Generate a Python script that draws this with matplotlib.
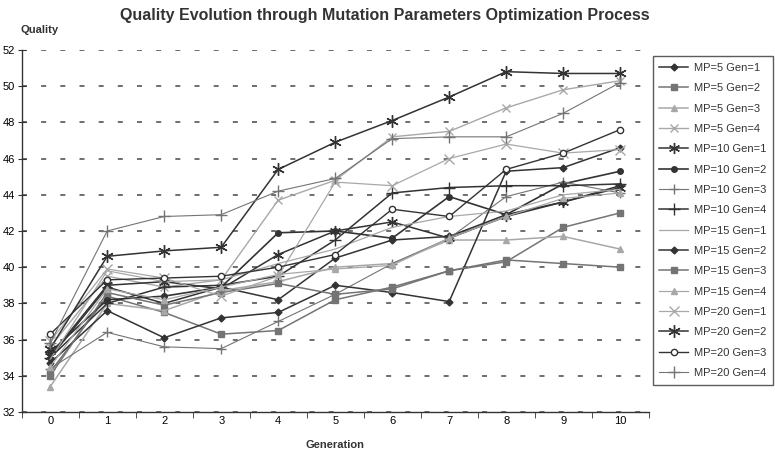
import numpy as np
import matplotlib
matplotlib.use('Agg')
import matplotlib.pyplot as plt

plt.rcParams['font.family'] = ['Liberation Sans Narrow', 'Liberation Sans', 'DejaVu Sans']

generations = list(range(11))

# quality per generation
mp5_gen1 = [35.0, 38.9, 38.0, 38.9, 38.2, 40.5, 41.5, 41.7, 42.9, 43.6, 44.5]
mp5_gen2 = [34.2, 38.4, 37.5, 36.3, 36.5, 38.2, 38.9, 39.8, 40.3, 42.2, 43.0]
mp5_gen3 = [33.4, 38.0, 37.6, 38.7, 39.2, 40.0, 40.2, 41.5, 41.5, 41.7, 41.0]
mp5_gen4 = [35.6, 39.5, 38.9, 39.3, 43.7, 44.8, 47.2, 47.5, 48.8, 49.8, 50.3]
mp10_gen1 = [35.1, 39.0, 39.2, 38.8, 40.7, 42.0, 42.5, 41.6, 42.8, 43.6, 44.4]
mp10_gen2 = [35.3, 38.2, 38.4, 38.9, 41.9, 42.0, 41.6, 43.9, 42.9, 44.6, 45.3]
mp10_gen3 = [34.4, 36.4, 35.6, 35.5, 37.0, 38.5, 40.2, 41.6, 43.9, 44.7, 44.1]
mp10_gen4 = [35.0, 38.0, 38.9, 39.0, 39.5, 41.5, 44.1, 44.4, 44.5, 44.5, 44.6]
mp15_gen1 = [34.9, 39.8, 39.2, 39.3, 40.2, 41.0, 42.2, 42.8, 43.1, 44.0, 44.3]
mp15_gen2 = [34.7, 37.6, 36.1, 37.2, 37.5, 39.0, 38.6, 38.1, 45.3, 45.5, 46.6]
mp15_gen3 = [34.0, 38.6, 37.9, 38.6, 39.1, 38.5, 38.8, 39.8, 40.4, 40.2, 40.0]
mp15_gen4 = [34.5, 38.8, 38.2, 38.9, 39.6, 39.9, 40.1, 41.6, 42.8, 43.8, 44.1]
mp20_gen1 = [35.9, 39.9, 39.4, 38.4, 39.5, 44.7, 44.5, 46.0, 46.8, 46.3, 46.5]
mp20_gen2 = [35.5, 40.6, 40.9, 41.1, 45.4, 46.9, 48.1, 49.4, 50.8, 50.7, 50.7]
mp20_gen3 = [36.3, 39.3, 39.4, 39.5, 40.0, 40.7, 43.2, 42.8, 45.4, 46.3, 47.6]
mp20_gen4 = [35.8, 42.0, 42.8, 42.9, 44.2, 44.9, 47.1, 47.2, 47.2, 48.5, 50.2]

labels = ['MP=5 Gen=1', 'MP=5 Gen=2', 'MP=5 Gen=3', 'MP=5 Gen=4',
          'MP=10 Gen=1', 'MP=10 Gen=2', 'MP=10 Gen=3', 'MP=10 Gen=4',
          'MP=15 Gen=1', 'MP=15 Gen=2', 'MP=15 Gen=3', 'MP=15 Gen=4',
          'MP=20 Gen=1', 'MP=20 Gen=2', 'MP=20 Gen=3', 'MP=20 Gen=4']
series = [mp5_gen1, mp5_gen2, mp5_gen3, mp5_gen4,
          mp10_gen1, mp10_gen2, mp10_gen3, mp10_gen4,
          mp15_gen1, mp15_gen2, mp15_gen3, mp15_gen4,
          mp20_gen1, mp20_gen2, mp20_gen3, mp20_gen4]

dark, mid, light = '#333333', '#747474', '#a8a8a8'
# (color, marker, marker size, line width, filled)
styles = [
    (dark, 'D', 3.5, 1.1, True),
    (mid, 's', 4.5, 1.1, True),
    (light, '^', 4.5, 1.1, True),
    (light, 'x', 6, 1.0, True),
    (dark, (6, 2, 0), 8, 1.1, True),
    (dark, 'o', 4, 1.2, True),
    (mid, '+', 7, 0.8, True),
    (dark, '+', 8, 1.1, True),
    (light, None, 0, 0.9, True),
    (dark, 'D', 3.5, 1.1, True),
    (mid, 's', 5, 1.1, True),
    (light, '^', 4.5, 0.9, True),
    (light, 'x', 7, 0.9, True),
    (dark, (6, 2, 0), 9, 1.1, True),
    (dark, 'o', 4.5, 1.0, False),
    (mid, '+', 8, 0.8, True),
]

fig = plt.figure(figsize=(7.75, 4.54), dpi=100)
ax = fig.add_axes([0.028, 0.0925, 0.809, 0.7975])

handles = []
for vals, lab, (col, mk, ms, lw, filled) in zip(series, labels, styles):
    h, = ax.plot(generations, vals, color=col, lw=lw, marker=mk, markersize=ms,
                 markerfacecolor=col if filled else 'white', markeredgecolor=col,
                 markeredgewidth=1.0, label=lab)
    handles.append(h)

ax.set_xlim(-0.5, 10.5)
ax.set_ylim(32, 52)
ax.set_yticks(np.arange(32, 53, 2))
ax.set_xticks(generations)
ax.set_xticks(np.arange(-0.5, 10.6, 1), minor=True)
ax.tick_params(axis='x', which='major', length=0, labelsize=8, pad=3)
ax.tick_params(axis='x', which='minor', length=4, direction='out', color='#333333')
ax.tick_params(axis='y', length=6, direction='inout', labelsize=8, pad=2, color='#333333')

for s in ['top', 'right']:
    ax.spines[s].set_visible(False)
for s in ['left', 'bottom']:
    ax.spines[s].set_color('#333333')
    ax.spines[s].set_linewidth(1.0)

ax.yaxis.grid(True, color='#555555', linestyle=(0, (3, 8.5)), linewidth=1.2)
ax.set_axisbelow(True)

fig.text(0.497, 0.965, 'Quality Evolution through Mutation Parameters Optimization Process',
         ha='center', va='center', fontsize=11.5, fontweight='bold', color='#333333')
fig.text(0.026, 0.935, 'Quality', ha='left', va='center', fontsize=8,
         fontweight='bold', color='#333333')
ax.set_xlabel('Generation', fontsize=8, fontweight='bold', color='#333333', labelpad=10)

leg = fig.legend(handles=handles, labels=labels, loc='upper left',
                 bbox_to_anchor=(0.842, 0.876), fontsize=8, frameon=True,
                 fancybox=False, edgecolor='#333333', handlelength=2.6,
                 handletextpad=0.5, labelspacing=0.93, borderpad=0.6,
                 borderaxespad=0)
leg.get_frame().set_linewidth(1.0)
for t in leg.get_texts():
    t.set_color('#333333')

fig.savefig('out.png', dpi=100)
